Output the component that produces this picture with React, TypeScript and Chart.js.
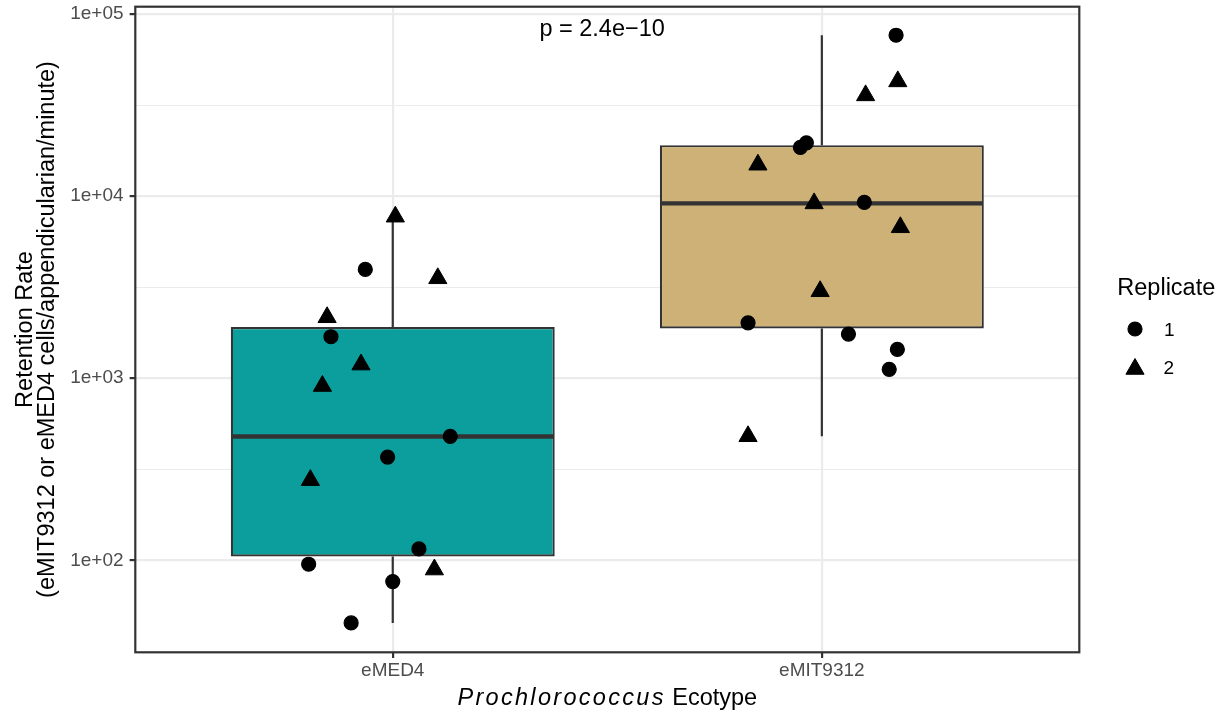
import React, { useEffect, useRef } from 'react';
import { Chart, registerables } from 'chart.js';

Chart.register(...registerables);

const FONT = '"Liberation Sans", Arial, Helvetica, sans-serif';

// Categories (x positions 1 and 2 on a discrete axis)
const categories = ['eMED4', 'eMIT9312'];
const categoryPositions = [1, 2];
const boxFills = ['#0B9E9C', '#CDB177'];

// Box statistics (log-scale boxplot)
const boxQ1 = [104.9, 1878];
const boxMedian = [479, 9120];
const boxQ3 = [1911, 19050];
const whiskerLow = [45.3, 480];
const whiskerHigh = [7710, 76470];

// Replicate 1 (circles)
const rep1_eMED4 = [3960, 1690, 369, 479, 115.5, 95.2, 76.4, 45.3];
const rep1_eMED4_jitter = [-0.064, -0.144, -0.012, 0.134, 0.061, -0.196, 0.0, -0.097];
const rep1_eMIT9312 = [76470, 19610, 18510, 9235, 2016, 1748, 1440, 1119];
const rep1_eMIT9312_jitter = [0.173, -0.036, -0.05, 0.099, -0.172, 0.062, 0.176, 0.157];

// Replicate 2 (triangles)
const rep2_eMED4 = [7710, 3538, 2161, 1188, 906, 275.6, 89.0];
const rep2_eMED4_jitter = [0.006, 0.105, -0.153, -0.074, -0.164, -0.192, 0.097];
const rep2_eMIT9312 = [42660, 35740, 14870, 9120, 6743, 3003, 480];
const rep2_eMIT9312_jitter = [0.177, 0.102, -0.149, -0.018, 0.183, -0.004, -0.172];

// Axis settings
const yMajorTicks = [100, 1000, 10000, 100000];
const yMajorLabels = ['1e+02', '1e+03', '1e+04', '1e+05'];
const yMinorTicks = [316.2, 3162, 31620];
const yMin = 31.26;
const yMax = 109700;
const xMin = 0.4;
const xMax = 2.6;
const boxWidth = 0.75;

const pLabel = 'p = 2.4e\u221210';
const pLabelX = 1.488;

const toPoints = (vals: number[], jit: number[], pos: number) =>
  vals.map((v, i) => ({ x: pos + jit[i], y: v }));

const isMajor = (v: number | undefined) => v !== undefined && yMajorTicks.includes(v);

const drawTriangle = (ctx: CanvasRenderingContext2D, x: number, y: number, r: number) => {
  ctx.beginPath();
  for (let k = 0; k < 3; k++) {
    const a = (k * 2 * Math.PI) / 3;
    const px = x + Math.sin(a) * r;
    const py = y - Math.cos(a) * r;
    if (k === 0) ctx.moveTo(px, py);
    else ctx.lineTo(px, py);
  }
  ctx.closePath();
  ctx.fill();
  ctx.stroke();
};

const decorPlugin = {
  id: 'ggDecor',
  afterDatasetsDraw(chart: any) {
    const { ctx, chartArea: a, scales } = chart;
    ctx.save();
    // panel border
    ctx.strokeStyle = '#333333';
    ctx.lineWidth = 2.2;
    ctx.strokeRect(a.left, a.top, a.right - a.left, a.bottom - a.top);

    // p-value label
    ctx.fillStyle = '#000000';
    ctx.font = `23.5px ${FONT}`;
    ctx.textAlign = 'center';
    ctx.textBaseline = 'alphabetic';
    ctx.fillText(pLabel, scales.x.getPixelForValue(pLabelX), 36);

    // y-axis title (two lines, rotated)
    const cy = (a.top + a.bottom) / 2;
    const yTitle = ['Retention Rate', '(eMIT9312 or eMED4 cells/appendicularian/minute)'];
    const baselines = [32, 53.5];
    yTitle.forEach((t, i) => {
      ctx.save();
      ctx.translate(baselines[i], cy);
      ctx.rotate(-Math.PI / 2);
      ctx.textAlign = 'center';
      ctx.fillText(t, 0, 0);
      ctx.restore();
    });

    // x-axis title with italic genus
    const cx = (a.left + a.right) / 2;
    ctx.textAlign = 'left';
    ctx.font = `italic 23.5px ${FONT}`;
    (ctx as any).letterSpacing = '2.3px';
    const w1 = ctx.measureText('Prochlorococcus').width;
    (ctx as any).letterSpacing = '0px';
    ctx.font = `23.5px ${FONT}`;
    const w2 = ctx.measureText(' Ecotype').width;
    const x0 = cx - (w1 + w2) / 2;
    ctx.font = `italic 23.5px ${FONT}`;
    (ctx as any).letterSpacing = '2.3px';
    ctx.fillText('Prochlorococcus', x0, 705);
    (ctx as any).letterSpacing = '0px';
    ctx.font = `23.5px ${FONT}`;
    ctx.fillText(' Ecotype', x0 + w1, 705);

    // legend
    ctx.fillText('Replicate', 1117.3, 295);
    ctx.fillStyle = '#000000';
    ctx.strokeStyle = '#000000';
    ctx.lineWidth = 1.2;
    ctx.beginPath();
    ctx.arc(1135, 329, 7, 0, Math.PI * 2);
    ctx.fill();
    ctx.stroke();
    ctx.lineWidth = 1;
    ctx.lineJoin = 'miter';
    drawTriangle(ctx, 1135, 369, 10.5);
    ctx.font = `19px ${FONT}`;
    ctx.fillText('1', 1164, 335.8);
    ctx.fillText('2', 1163.5, 374.3);
    ctx.restore();
  },
};

export default function App() {
  const canvasRef = useRef<HTMLCanvasElement | null>(null);

  useEffect(() => {
    if (!canvasRef.current) return;

    const boxData = categoryPositions.map((p, i) => ({ x: p, y: [boxQ1[i], boxQ3[i]] }));
    const medianSets = categoryPositions.map((p, i) => ({
      type: 'line' as const,
      data: [
        { x: p - boxWidth / 2, y: boxMedian[i] },
        { x: p + boxWidth / 2, y: boxMedian[i] },
      ],
      borderColor: '#333333',
      borderWidth: 4.4,
      borderCapStyle: 'butt' as const,
      pointRadius: 0,
      order: 1,
    }));
    const whiskerSets = categoryPositions.flatMap((p, i) => [
      {
        type: 'line' as const,
        data: [
          { x: p, y: whiskerLow[i] },
          { x: p, y: boxQ1[i] },
        ],
        borderColor: '#333333',
        borderWidth: 2.2,
        borderCapStyle: 'butt' as const,
        pointRadius: 0,
        order: 3,
      },
      {
        type: 'line' as const,
        data: [
          { x: p, y: boxQ3[i] },
          { x: p, y: whiskerHigh[i] },
        ],
        borderColor: '#333333',
        borderWidth: 2.2,
        borderCapStyle: 'butt' as const,
        pointRadius: 0,
        order: 3,
      },
    ]);

    const rep1Points = [
      ...toPoints(rep1_eMED4, rep1_eMED4_jitter, categoryPositions[0]),
      ...toPoints(rep1_eMIT9312, rep1_eMIT9312_jitter, categoryPositions[1]),
    ];
    const rep2Points = [
      ...toPoints(rep2_eMED4, rep2_eMED4_jitter, categoryPositions[0]),
      ...toPoints(rep2_eMIT9312, rep2_eMIT9312_jitter, categoryPositions[1]),
    ];

    const chart = new Chart(canvasRef.current, {
      type: 'scatter',
      data: {
        datasets: [
          {
            type: 'scatter',
            label: '1',
            data: rep1Points,
            pointStyle: 'circle',
            pointRadius: 7,
            pointBorderWidth: 1.2,
            pointBackgroundColor: '#000000',
            pointBorderColor: '#000000',
            order: 0,
          },
          {
            type: 'scatter',
            label: '2',
            data: rep2Points,
            pointStyle: 'triangle',
            pointRadius: 10.5,
            pointBorderWidth: 1,
            pointBackgroundColor: '#000000',
            pointBorderColor: '#000000',
            order: 0,
          },
          ...medianSets,
          ...whiskerSets,
          {
            type: 'bar',
            data: boxData as any,
            backgroundColor: boxFills,
            borderColor: '#333333',
            borderWidth: 2.2,
            borderSkipped: false,
            barPercentage: 0.755,
            categoryPercentage: 1,
            grouped: false,
            order: 2,
          } as any,
        ] as any,
      },
      options: {
        responsive: false,
        maintainAspectRatio: false,
        animation: false,
        events: [],
        layout: { autoPadding: false, padding: { left: 0, top: 6.7, right: 144.7, bottom: 0 } },
        plugins: {
          legend: { display: false },
          tooltip: { enabled: false },
          title: { display: false },
        },
        scales: {
          x: {
            type: 'linear',
            min: xMin,
            max: xMax,
            offset: false,
            bounds: 'data',
            afterBuildTicks: (scale: any) => {
              scale.ticks = categoryPositions.map((v) => ({ value: v }));
            },
            afterFit: (scale: any) => {
              scale.height = 60.7;
              scale.paddingLeft = 0;
              scale.paddingRight = 0;
            },
            ticks: {
              autoSkip: false,
              maxRotation: 0,
              padding: 3,
              color: '#4D4D4D',
              font: { family: FONT, size: 19, lineHeight: 1 },
              callback: (v: any) => {
                const i = categoryPositions.indexOf(Number(v));
                return i >= 0 ? categories[i] : '';
              },
            },
            grid: {
              offset: false,
              color: '#EBEBEB',
              lineWidth: 2.2,
              tickColor: '#333333',
              tickLength: 5.7,
              tickWidth: 2.2,
              drawTicks: true,
            },
            border: { display: false },
          },
          y: {
            type: 'logarithmic',
            min: yMin,
            max: yMax,
            bounds: 'data',
            beginAtZero: false,
            afterBuildTicks: (scale: any) => {
              scale.ticks = [...yMajorTicks, ...yMinorTicks]
                .sort((p, q) => p - q)
                .map((v) => ({ value: v }));
            },
            afterFit: (scale: any) => {
              scale.width = 135.3;
              scale.paddingTop = 0;
              scale.paddingBottom = 0;
            },
            ticks: {
              autoSkip: false,
              padding: 6,
              color: '#4D4D4D',
              font: { family: FONT, size: 19, lineHeight: 1 },
              callback: (v: any) => {
                const i = yMajorTicks.indexOf(Number(v));
                return i >= 0 ? yMajorLabels[i] : '';
              },
            },
            grid: {
              color: '#EBEBEB',
              lineWidth: (c: any) => (isMajor(c.tick?.value) ? 2.2 : 1.1),
              tickColor: (c: any) => (isMajor(c.tick?.value) ? '#333333' : 'rgba(0,0,0,0)'),
              tickLength: 5.7,
              tickWidth: 2.2,
              drawTicks: true,
            },
            border: { display: false },
          },
        },
      } as any,
      plugins: [decorPlugin],
    });

    return () => chart.destroy();
  }, []);

  return (
    <div style={{ position: 'fixed', left: 0, top: 0, width: 1224, height: 713, background: '#ffffff' }}>
      <canvas ref={canvasRef} width={1224} height={713} style={{ display: 'block' }} />
    </div>
  );
}
